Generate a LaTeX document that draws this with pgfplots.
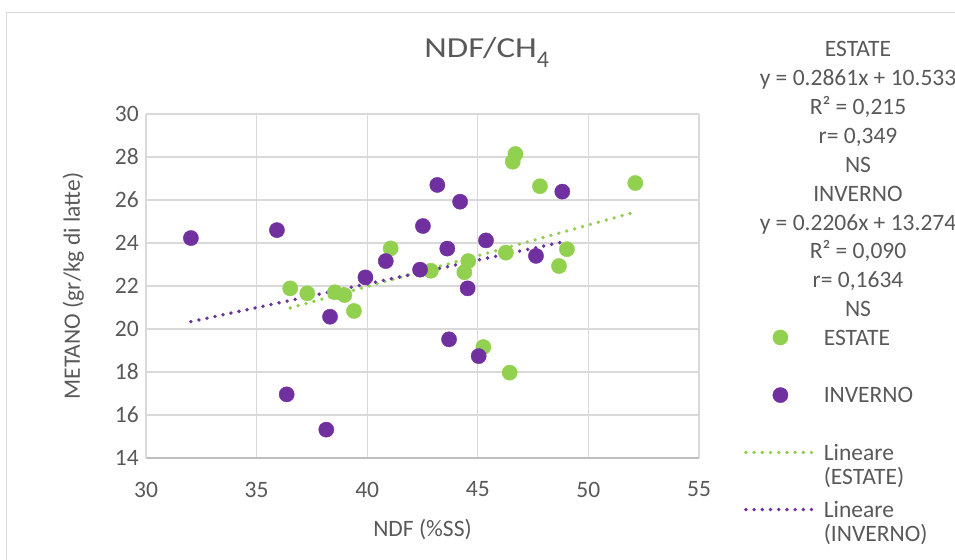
\documentclass[border=0pt]{standalone}
\usepackage{pgfplots}
\pgfplotsset{compat=1.18}
\usepackage{fontspec}
\setmainfont{Carlito}
\definecolor{est}{HTML}{92D050}
\definecolor{inv}{HTML}{7030A0}
\definecolor{txt}{HTML}{595959}
\definecolor{grd}{HTML}{D9D9D9}
\definecolor{axl}{HTML}{BFBFBF}
\newcommand{\fs}{\fontsize{23.5bp}{28.9bp}\selectfont}
\newcommand{\lfs}{\fontsize{23.5bp}{24bp}\selectfont}

\pgfplotsset{
  marklegend/.style={legend image code/.code={\path[draw=none,fill=none] (0bp,-7.8bp) rectangle (69bp,7.8bp); \path[##1, draw=none, fill=none, only marks] plot coordinates {(34.5bp,0bp)};}},
  linelegend/.style={legend image code/.code={\draw[##1] (0bp,0bp) -- (69bp,0bp);}},
}

\pgfplotstableread{
x y
36.52 21.89
37.29 21.66
38.54 21.71
38.97 21.58
39.40 20.84
41.06 23.75
42.88 22.71
44.57 23.16
44.39 22.64
46.27 23.55
46.70 28.14
46.58 27.78
47.81 26.64
52.12 26.79
49.03 23.71
48.67 22.93
45.25 19.16
46.44 17.97
}\estate

\pgfplotstableread{
x y
32.03 24.23
35.92 24.60
36.36 16.96
38.15 15.32
38.32 20.57
39.92 22.40
40.84 23.16
42.52 24.79
43.17 26.70
42.39 22.76
44.20 25.92
43.62 23.74
45.37 24.12
44.54 21.89
43.70 19.52
45.04 18.74
47.63 23.40
48.82 26.39
}\inverno

\begin{document}
\begin{tikzpicture}
\useasboundingbox (-146bp,-102bp) rectangle (809bp,458bp);
\draw[grd, line width=1bp] (-139bp,445.3bp) rectangle (840bp,-140bp);
\begin{axis}[
  at={(0,0)}, anchor=south west,
  scale only axis, width=553bp, height=344bp,
  xmin=30, xmax=55, ymin=14, ymax=30,
  xtick={30,35,...,55}, ytick={14,16,...,30},
  grid=major, major grid style={grd, line width=1.2bp},
  axis lines*=left,
  x axis line style={axl, line width=1.2bp},
  y axis line style={grd, line width=1.2bp},
  major tick length=0pt,
  font=\fs,
  /pgf/number format/assume math mode=true,
  tick label style={txt, font=\fs, inner sep=0pt},
  xticklabel style={anchor=north, yshift=-23.7bp},
  yticklabel style={anchor=east, xshift=-7bp},
  xlabel={NDF (\%SS)}, ylabel={METANO (gr/kg di latte)},
  xlabel style={txt, font=\fs, at={(axis description cs:0.5,-0.22878)}, anchor=base},
  ylabel style={txt, font=\fs, at={(axis description cs:-0.11935,0.5)}, anchor=base},
  title={\scalebox{1.2}[1]{NDF/CH}\raisebox{-10bp}{\fontsize{24bp}{24bp}\selectfont 4}},
  title style={txt, font=\fontsize{29bp}{34bp}\selectfont, at={(axis description cs:0.61609,1.14738)}, anchor=base},
  legend cell align=left,
  legend style={at={(axis description cs:1.08137,0.37297)}, anchor=north west,
    draw=none, fill=none, inner sep=0pt, outer sep=0pt,
    row sep=42bp, column sep=7bp,
    nodes={inner sep=0pt, outer sep=0pt, text height=15.1bp, text depth=0pt, txt, font=\lfs},
    cells={anchor=west}},
]
\addplot[only marks, mark=*, mark size=7.6bp, mark options={fill=est, draw=est, line width=0.4bp}, marklegend]
  table[x=x,y=y] {\estate};
\addlegendentry{ESTATE}
\addplot[only marks, mark=*, mark size=7.6bp, mark options={fill=inv, draw=inv, line width=0.4bp}, marklegend]
  table[x=x,y=y] {\inverno};
\addlegendentry{INVERNO}
\addplot[est, line width=3.8bp, line cap=round, dash pattern=on 0pt off 8.2bp, linelegend]
  coordinates {(36.52,20.982) (52.12,25.445)};
\addlegendentry{\vtop{\hbox{Lineare}\hbox{(ESTATE)}}}
\addplot[inv, line width=3.8bp, line cap=round, dash pattern=on 0pt off 8.2bp, linelegend]
  coordinates {(32.03,20.340) (48.82,24.044)};
\addlegendentry{\vtop{\hbox{Lineare}\hbox{(INVERNO)}}}
\end{axis}
\begin{scope}[every node/.style={txt, font=\fs, anchor=base, inner sep=0pt}]
\node at (712bp,401.3bp) {ESTATE};
\node at (712bp,372.4bp) {y = 0.2861x + 10.533};
\node at (712bp,343.5bp) {R² = 0,215};
\node at (712bp,314.6bp) {r= 0,349};
\node at (712bp,285.7bp) {NS};
\node at (712bp,256.8bp) {INVERNO};
\node at (712bp,227.9bp) {y = 0.2206x + 13.274};
\node at (712bp,199.0bp) {R² = 0,090};
\node at (712bp,170.1bp) {r= 0,1634};
\node at (712bp,141.2bp) {NS};
\end{scope}
\end{tikzpicture}
\end{document}
